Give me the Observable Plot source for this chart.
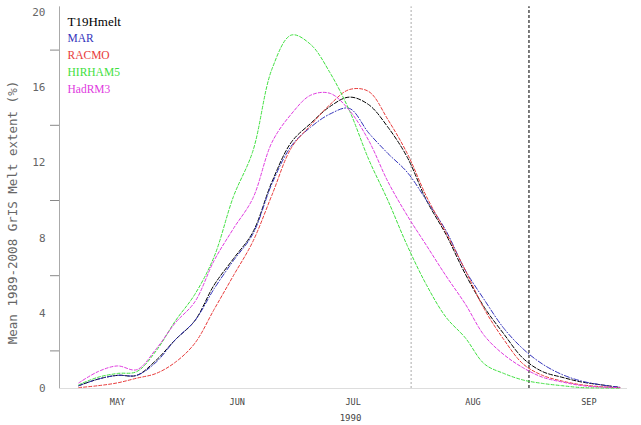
<!DOCTYPE html>
<html>
<head>
<meta charset="utf-8">
<script src="https://cdn.jsdelivr.net/npm/d3@7"></script>
<script src="https://cdn.jsdelivr.net/npm/@observablehq/plot@0.6"></script>
<style>
  body { margin: 0; background: #fff; }
</style>
</head>
<body>
<div id="chart"></div>
<script>
// Day of year (1990)
const days = [125,130,135,140,145,150,155,160,165,170,175,180,185,190,195,200,205,210,215,220,225,230,235,240,245,250,255,260,265];

const t19hmelt = [0.15,0.5,0.7,0.7,1.5,2.6,3.6,5.5,6.9,8.3,11.0,13.1,14.1,15.0,15.5,15.1,13.9,12.3,10.0,8.2,6.1,4.3,2.9,1.6,0.9,0.6,0.35,0.2,0.06];
const mar      = [0.15,0.5,0.7,0.7,1.4,2.6,3.6,5.3,6.8,8.2,10.9,12.9,13.9,14.6,14.9,13.6,12.5,11.5,10.0,8.4,6.3,4.7,3.2,2.1,1.3,0.75,0.4,0.2,0.06];
const racmo    = [0.05,0.15,0.3,0.55,0.8,1.4,2.4,4.2,6.0,7.8,10.3,12.8,14.0,15.1,15.9,15.8,14.3,12.5,10.2,8.3,6.3,4.2,2.6,1.3,0.7,0.4,0.2,0.1,0.04];
const hirham5  = [0.2,0.6,0.8,0.9,2.0,3.6,5.0,7.0,10.2,12.6,17.0,18.8,18.3,16.8,14.8,12.2,10.0,7.6,5.5,3.8,2.7,1.3,0.8,0.45,0.27,0.15,0.05,0.03,0.02];
const hadrm3   = [0.3,0.9,1.2,1.0,2.1,3.5,4.6,6.8,8.5,10.1,13.1,14.6,15.6,15.7,14.8,13.2,11.0,9.2,7.6,6.0,4.5,2.8,1.8,1.1,0.6,0.35,0.16,0.08,0.05];

const seriesNames  = ["T19Hmelt","MAR","RACMO","HIRHAM5","HadRM3"];
const seriesValues = [t19hmelt, mar, racmo, hirham5, hadrm3];
const seriesColors = ["#000000","#3333bb","#e83a3a","#3ee03e","#e03ae0"];
const seriesDash   = ["4,2","5,2,1,2","3,2","3,2","3,2"];

const monthTicks  = [135,166,196,227,257];
const monthLabels = ["MAY","JUN","JUL","AUG","SEP"];
const yLabelTicks = [0,4,8,12,16,20];
const yMinorTicks = [2,6,10,14,18];
const markerDays  = [211, 241.5];

const xLabel = "1990";
const yLabel = "Mean 1989-2008 GrIS Melt extent (%)";

const mono = "'DejaVu Sans Mono', monospace";
const serif = "'Liberation Serif', 'DejaVu Serif', serif";

const lineMarks = seriesNames.map((name, k) =>
  Plot.line(days.map((d, i) => ({day: d, value: seriesValues[k][i]})), {
    x: "day", y: "value",
    stroke: seriesColors[k], strokeWidth: 1,
    strokeDasharray: seriesDash[k],
    curve: "catmull-rom"
  })
);

const legendMarks = seriesNames.map((name, k) =>
  Plot.text([name], {
    frameAnchor: "top-left",
    dx: 8, dy: 4 + k * 17.2,
    text: d => d,
    fill: seriesColors[k],
    fontFamily: serif,
    fontSize: k === 0 ? 13 : 11.5,
    textAnchor: "start"
  })
);

const chart = Plot.plot({
  width: 641,
  height: 425,
  marginLeft: 59,
  marginRight: 14,
  marginTop: 12,
  marginBottom: 37,
  x: {domain: [120, 267], axis: null},
  y: {domain: [0, 20], axis: null},
  marks: [
    Plot.ruleY([0], {stroke: "#dddddd", strokeWidth: 1}),
    Plot.ruleX([120], {stroke: "#aaaaaa", strokeWidth: 1, y1: 0, y2: 20.3}),
    Plot.ruleX([markerDays[0]], {stroke: "#aaaaaa", strokeWidth: 1, strokeDasharray: "2,2", y1: 0, y2: 20.3}),
    Plot.ruleX([markerDays[1]], {stroke: "#222222", strokeWidth: 1.2, strokeDasharray: "3,2", y1: 0, y2: 20.3}),
    Plot.axisY(yLabelTicks, {tickSize: 0, tickPadding: 14, fontSize: 11, fontFamily: mono, fill: "#666", label: null}),
    Plot.axisY(yMinorTicks, {tickSize: 9, tickFormat: () => "", stroke: "#888", label: null}),
    Plot.axisX(monthTicks, {tickSize: 0, tickPadding: 10, fontSize: 8.5, fontFamily: mono, fill: "#444",
      tickFormat: d => monthLabels[monthTicks.indexOf(d)], label: null}),
    Plot.text([xLabel], {frameAnchor: "bottom", dy: 32, dx: 7, fontSize: 9, fontFamily: mono, fill: "#444", text: d => d}),
    Plot.text([yLabel], {frameAnchor: "left", textAnchor: "middle", rotate: -90, dx: -47, dy: 12, fontSize: 12.5, fontFamily: mono, fill: "#666", text: d => d}),
    ...lineMarks,
    ...legendMarks
  ]
});

document.getElementById("chart").appendChild(chart);
</script>
</body>
</html>
